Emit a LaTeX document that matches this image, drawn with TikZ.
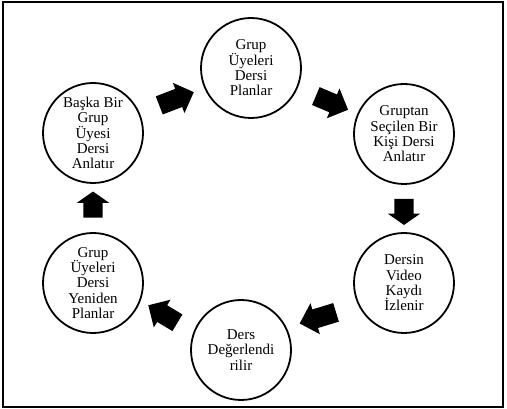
\documentclass[tikz,border=0pt]{standalone}
\usepackage{fontspec}
\setmainfont{Liberation Serif}
\usepackage{tikz}
\usetikzlibrary{shapes.arrows,calc}
\lineskiplimit=-10pt

\begin{document}
\begin{tikzpicture}[x=1pt,y=-1pt,
    stepnode/.style={circle,draw,line width=1.8pt,minimum size=100pt,inner sep=0pt,
        align=center,font=\fontsize{15}{15.4}\selectfont},
    blockarrow/.style={single arrow,fill=black,draw=none,inner sep=9.5pt,
        minimum height=#1,single arrow head extend=6.5pt}]
    \useasboundingbox (0,0) rectangle (507,409);
    \draw[line width=2pt] (3,2) rectangle (503,407);
    \node[stepnode] (top) at (251,68)  {Grup\\Üyeleri\\Dersi\\Planlar};
    \node[stepnode] (rt)  at (404,134) {Gruptan\\Seçilen Bir\\Kişi Dersi\\Anlatır};
    \node[stepnode] (rb)  at (404,283) {Dersin\\Video\\Kaydı\\İzlenir};
    \node[stepnode] (bot) at (241,350) {Ders\\Değerlendi\\rilir};
    \node[stepnode] (lb)  at (93,283)  {Grup\\Üyeleri\\Dersi\\Yeniden\\Planlar};
    \node[stepnode] (lt)  at (93,133)  {Başka Bir\\Grup\\Üyesi\\Dersi\\Anlatır};
    % block arrows between the steps
    \node[blockarrow=37pt,rotate=21]  (a1) at ($(lt)!0.5!(top)$) {};
    \node[blockarrow=35pt,rotate=-23] (a2) at ($(top)!0.5!(rt)$) {};
    \node[blockarrow=26pt,rotate=-90,single arrow tip angle=110] (a3) at ($(rt)!0.5!(rb)$) {};
    \node[blockarrow=38pt,rotate=197] (a4) at ($(rb)!0.5!(bot)$) {};
    \node[blockarrow=34pt,rotate=149] (a5) at ($(bot)!0.5!(lb)$) {};
    \node[blockarrow=26pt,rotate=90,single arrow tip angle=110]  (a6) at ($(lb)!0.5!(lt)$) {};
\end{tikzpicture}
\end{document}
